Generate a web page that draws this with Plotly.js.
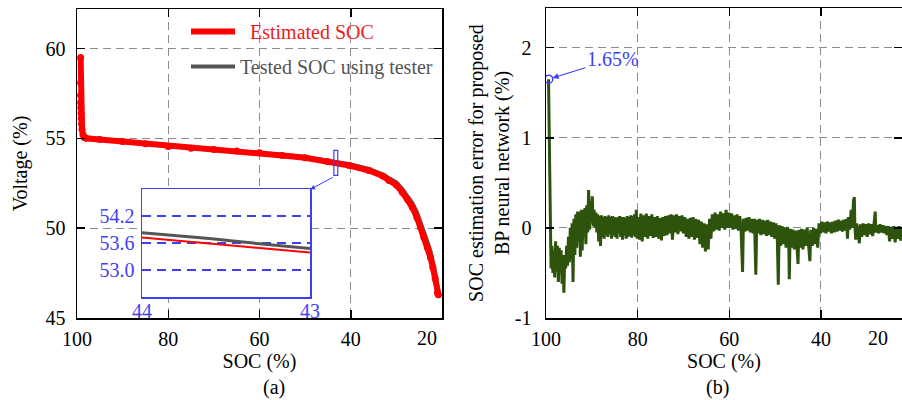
<!DOCTYPE html>
<html>
<head>
<meta charset="utf-8">
<script src="https://cdn.plot.ly/plotly-3.0.1.min.js"></script>
<style>html,body{margin:0;padding:0;background:#fff;}#chart{width:902px;height:400px;}</style>
</head>
<body>
<div id="chart"></div>
<script>
// ---- Panel (a): voltage vs SOC ----
const estSOC = [99.2, 99.2, 99.2, 99.2, 99.15, 99.1, 99.05, 99.0, 98.9, 98.7, 98.4, 98.0, 95, 90, 85, 80, 75, 70, 65, 60, 55, 50, 45, 40.3, 36, 33, 31.6, 30, 28.7, 27.5, 26.5, 25.5, 24.7, 24, 23.2, 22.5, 22, 21.5, 21, 20.8];
const estV   = [59.5, 58.1, 57.4, 57.0, 56.7, 56.4, 56.1, 55.8, 55.5, 55.2, 55.05, 55.0, 54.93, 54.83, 54.7, 54.55, 54.45, 54.38, 54.3, 54.2, 54.05, 53.92, 53.7, 53.49, 53.21, 52.9, 52.65, 52.4, 52.0, 51.6, 51.16, 50.6, 50.04, 49.5, 48.93, 48.35, 47.81, 47.2, 46.41, 46.3];
const testSOC = [99.2, 99.0, 98.5, 98, 95, 90, 85, 80, 75, 70, 65, 60, 55, 50, 45, 40, 36, 33, 31.6, 30, 28.7, 27.5, 26.5, 25.5, 24.7, 24, 23.2, 22.5, 22, 21.5, 21, 20.7];
const testV   = [57.0, 55.9, 55.1, 55.02, 54.95, 54.85, 54.72, 54.58, 54.48, 54.4, 54.32, 54.23, 54.09, 53.96, 53.76, 53.55, 53.3, 53.0, 52.78, 52.55, 52.18, 51.8, 51.4, 50.88, 50.35, 49.8, 49.25, 48.7, 48.15, 47.55, 46.8, 46.4];

// inset (zoom 44 -> 43)
const insetSOC   = [44, 43.8, 43.6, 43.4, 43.2, 43.0];
const insetTestV = [53.83, 53.77, 53.70, 53.62, 53.55, 53.48];
const insetEstV  = [53.72, 53.66, 53.59, 53.52, 53.46, 53.39];
const insetTicks = [54.2, 53.6, 53.0];
const insetXTicks = [44, 43];

const xTicksA = [100, 80, 60, 40];
const yTicksA = [60, 55, 50, 45];

// ---- Panel (b): SOC estimation error ----
const errSOC = [99.45, 99.3, 99.15, 99.05, 98.9, 98.7, 98.5, 98.3, 98.1, 97.9, 97.7, 97.5, 97.3, 97.1, 96.9, 96.7, 96.5, 96.3, 96.1, 95.9, 95.7, 95.5, 95.3, 95.1, 94.9, 94.7, 94.5, 94.3, 94.1, 93.9, 93.7, 93.5, 93.3, 93.1, 92.9, 92.7, 92.5, 92.3, 92.1, 91.9, 91.7, 91.5, 91.3, 91.1, 90.9, 90.7, 90.5, 90.3, 90.1, 89.9, 89.7, 89.5, 89.3, 89.1, 88.9, 88.7, 88.5, 88.3, 88.1, 87.9, 87.7, 87.5, 87.3, 87.1, 86.9, 86.7, 86.5, 86.3, 86.1, 85.9, 85.7, 85.5, 85.3, 85.1, 84.9, 84.7, 84.5, 84.3, 84.1, 83.9, 83.7, 83.5, 83.3, 83.1, 82.9, 82.7, 82.5, 82.3, 82.1, 81.9, 81.7, 81.5, 81.3, 81.1, 80.9, 80.7, 80.5, 80.3, 80.1,
  79.9, 79.6, 79.3, 79.0, 78.7, 78.4, 78.1, 77.8, 77.5, 77.2, 76.9, 76.6, 76.3, 76.0, 75.7, 75.4, 75.1, 74.8, 74.5, 74.2, 73.9, 73.6, 73.3, 73.0, 72.7, 72.4, 72.1, 71.8, 71.5, 71.2, 70.9, 70.6, 70.3, 70.0, 69.7, 69.4, 69.1, 68.8, 68.5, 68.2, 67.9, 67.6, 67.3, 67.0, 66.7, 66.4, 66.1, 65.8, 65.5, 65.2, 64.9, 64.6, 64.3, 64.0, 63.7, 63.4, 63.1, 62.8, 62.5, 62.2, 61.9, 61.6, 61.3, 61.0, 60.7, 60.4,
  60.1, 59.8, 59.5, 59.2, 58.9, 58.6, 58.3, 58.0, 57.7, 57.4, 57.1, 56.9, 56.6, 56.3, 56.0, 55.7, 55.4, 55.1, 54.8, 54.5, 54.2, 54.0, 53.7, 53.4, 53.1, 52.8, 52.5, 52.2, 51.9, 51.6, 51.3, 51.0, 50.7, 50.4, 50.1, 49.8, 49.5, 49.3, 49.1, 48.8, 48.5, 48.2, 47.9, 47.6, 47.3, 47.0, 46.9, 46.7, 46.4, 46.1, 45.8, 45.5, 45.2, 45.0, 44.8, 44.5, 44.2, 43.9, 43.6, 43.3, 43.0, 42.7, 42.4, 42.2, 41.9, 41.6, 41.3, 41.0, 40.7, 40.4,
  40.1, 39.8, 39.5, 39.2, 38.9, 38.6, 38.3, 38.0, 37.7, 37.4, 37.1, 36.8, 36.5, 36.2, 35.9, 35.6, 35.3, 35.0, 34.7, 34.4, 34.2, 34.0, 33.7, 33.4, 33.1, 32.9, 32.7, 32.6, 32.4, 32.2, 31.9, 31.6, 31.4, 31.1, 30.8, 30.5, 30.2, 29.9, 29.6, 29.3, 29.0, 28.7, 28.4, 28.15, 28.0, 27.7, 27.4, 27.1, 26.8, 26.5, 26.2, 25.9, 25.6, 25.3, 25.0, 24.7, 24.4, 24.1, 23.8, 23.5, 23.2, 22.9, 22.6, 22.3];
const errVal = [1.65, 1.0, 0.2, -0.25, -0.45, -0.2, -0.5, -0.25, -0.55, -0.15, -0.48, -0.2, -0.6, -0.22, -0.5, -0.25, -0.62, -0.3, -0.72, -0.3, -0.45, -0.2, -0.42, -0.1, -0.38, 0.0, -0.35, 0.05, -0.6, 0.1, -0.3, 0.15, -0.22, 0.18, -0.15, 0.18, -0.32, 0.2, -0.25, 0.2, -0.1, 0.22, -0.18, 0.25, -0.05, 0.42, -0.02, 0.3, 0.05, 0.35, 0.02, 0.2, 0.0, 0.17, -0.05, 0.15, -0.15, 0.13, -0.2, 0.14, -0.1, 0.12, -0.12, 0.13, -0.08, 0.12, -0.1, 0.14, -0.07, 0.12, -0.12, 0.13, -0.08, 0.12, -0.1, 0.11, -0.12, 0.12, -0.06, 0.13, -0.1, 0.12, -0.13, 0.12, -0.08, 0.11, -0.12, 0.13, -0.1, 0.12, -0.09, 0.14, -0.11, 0.13, -0.08, 0.15, -0.1, 0.2, -0.12,
  0.12, -0.13, 0.16, -0.15, 0.14, -0.1, 0.16, -0.12, 0.13, -0.09, 0.15, -0.11, 0.12, -0.1, 0.13, -0.12, 0.11, -0.14, 0.12, -0.09, 0.13, -0.08, 0.14, -0.06, 0.15, -0.13, 0.14, -0.05, 0.15, -0.07, 0.13, -0.04, 0.14, -0.06, 0.12, -0.1, 0.1, -0.12, 0.11, -0.1, 0.12, -0.13, 0.1, -0.11, 0.09, -0.18, 0.07, -0.22, 0.05, -0.26, 0.04, -0.24, 0.1, -0.12, 0.15, -0.04, 0.17, -0.02, 0.15, -0.03, 0.18, 0.0, 0.16, -0.02, 0.2, 0.0,
  0.17, 0.0, 0.16, -0.02, 0.14, -0.01, 0.15, -0.03, 0.13, -0.05, -0.49, 0.1, -0.04, 0.11, -0.03, 0.12, -0.05, 0.1, -0.06, 0.1, -0.52, 0.09, -0.06, 0.1, -0.08, 0.09, -0.07, 0.08, -0.09, 0.09, -0.08, 0.07, -0.1, 0.06, -0.12, 0.05, -0.15, -0.63, 0.03, -0.2, 0.02, -0.18, 0.0, -0.22, 0.01, -0.2, -0.57, -0.01, -0.22, -0.02, -0.24, -0.03, -0.22, -0.4, -0.02, -0.22, -0.01, -0.24, -0.02, -0.2, 0.0, -0.22, -0.37, -0.02, -0.2, 0.0, -0.18, -0.01, -0.22, 0.05,
  -0.06, 0.07, -0.05, 0.06, -0.06, 0.07, -0.04, 0.06, -0.06, 0.07, -0.05, 0.08, -0.04, 0.09, -0.03, 0.08, -0.04, 0.09, -0.03, 0.1, -0.12, 0.12, -0.02, 0.2, 0.0, 0.3, 0.34, 0.05, -0.13, 0.05, -0.1, -0.17, 0.04, -0.1, 0.05, -0.08, 0.04, -0.1, 0.05, -0.07, 0.04, -0.09, 0.05, 0.18, -0.05, 0.03, -0.06, 0.04, -0.05, 0.03, -0.06, 0.02, -0.08, 0.02, -0.15, 0.01, -0.12, 0.02, -0.16, 0.01, -0.12, 0.02, -0.14, 0.0];
const peakSOC = [99.4];
const peakVal = [1.65];
const xTicksB = [100, 80, 60, 40];
const yTicksB = [-1, 0, 1, 2];

const FONT = '"Liberation Serif", serif';
const BLUE = '#3f3ff5';
const GRID = '#8c8c8c';

const traces = [
  {x: testSOC, y: testV, xaxis: 'x', yaxis: 'y', type: 'scatter', mode: 'lines',
   line: {color: '#555555', width: 4}, name: '<span style="color:#555555">Tested SOC using tester</span>',
   legendrank: 2, legendgroup: 'g2'},
  {x: estSOC, y: estV, xaxis: 'x', yaxis: 'y', type: 'scatter', mode: 'lines',
   line: {color: '#ff0000', width: 6},
   name: '<span style="color:#ee1c1c">\u00a0\u00a0Estimated SOC</span>', legendrank: 1, legendgroup: 'g1'},
  {x: estSOC, y: estV, xaxis: 'x', yaxis: 'y', type: 'scatter', mode: 'markers',
   marker: {color: '#ff0000', size: 7}, showlegend: false},
  {x: insetSOC, y: insetTestV, xaxis: 'x3', yaxis: 'y3', type: 'scatter', mode: 'lines',
   line: {color: '#555555', width: 3}, showlegend: false},
  {x: insetSOC, y: insetEstV, xaxis: 'x3', yaxis: 'y3', type: 'scatter', mode: 'lines',
   line: {color: '#ff0000', width: 2}, showlegend: false},
  {x: errSOC, y: errVal, xaxis: 'x2', yaxis: 'y2', type: 'scatter', mode: 'lines',
   line: {color: '#2d530d', width: 3}, showlegend: false},
  {x: peakSOC, y: peakVal, xaxis: 'x2', yaxis: 'y2', type: 'scatter', mode: 'markers',
   marker: {symbol: 'circle-open', color: BLUE, size: 8, line: {width: 1.5}}, showlegend: false}
];

const tickFont = {family: FONT, size: 20, color: '#000'};
const axBase = {
  showline: true, linecolor: '#000', linewidth: 1.5, mirror: 'ticks',
  ticks: 'inside', ticklen: 8, tickcolor: '#000', tickwidth: 1.5,
  showgrid: true, gridcolor: GRID, gridwidth: 1, griddash: '8px,5px',
  zeroline: false, tickfont: tickFont
};

const px = v => (v - 77) / 825;
const py = v => (318 - v) / 310;

const layout = {
  width: 902, height: 400,
  margin: {l: 77, r: 0, t: 8, b: 82},
  paper_bgcolor: '#fff', plot_bgcolor: '#fff',
  font: {family: FONT, size: 20, color: '#000'},
  showlegend: true,
  legend: {x: px(186), y: py(12), xanchor: 'left', yanchor: 'top', bgcolor: 'rgba(0,0,0,0)',
           font: {family: FONT, size: 20}, tracegroupgap: 6, itemwidth: 44, traceorder: 'grouped'},
  xaxis: Object.assign({}, axBase, {domain: [0, px(442)], range: [100, 20], tickvals: xTicksA,
    ticklabelstandoff: 2, anchor: 'y',
    title: {text: 'SOC (%)', font: {family: FONT, size: 20}, standoff: 4}}),
  yaxis: Object.assign({}, axBase, {domain: [0, py(9)], range: [45, 62.2], tickvals: yTicksA,
    ticklabelstandoff: 6, anchor: 'x',
    title: {text: 'Voltage (%)', font: {family: FONT, size: 20}, standoff: 12}}),
  xaxis2: Object.assign({}, axBase, {domain: [px(546), 1], range: [100, 22.3], tickvals: xTicksB,
    ticklabelstandoff: 2, anchor: 'y2',
    title: {text: 'SOC (%)', font: {family: FONT, size: 20}, standoff: 4}}),
  yaxis2: Object.assign({}, axBase, {domain: [0, 1], range: [-1, 2.44], tickvals: yTicksB,
    ticktext: ['-1', '0', '1', '2'], ticklabelstandoff: 9, anchor: 'x2',
    title: {text: 'SOC estimation error for proposed<br>BP neural network (%)', font: {family: FONT, size: 20}, standoff: 0}}),
  xaxis3: {domain: [px(142), px(310)], range: [44, 43], anchor: 'y3', tickvals: insetXTicks,
    showline: true, linecolor: BLUE, linewidth: 1.5, mirror: true, ticks: '', showgrid: false,
    zeroline: false, tickfont: {family: FONT, size: 20, color: BLUE}, ticklabelstandoff: -5},
  yaxis3: {domain: [py(297), py(189)], range: [52.4, 54.8], anchor: 'x3', tickvals: insetTicks,
    tickformat: '.1f',
    showline: true, linecolor: BLUE, linewidth: 1.5, mirror: true, ticks: '',
    showgrid: true, gridcolor: BLUE, gridwidth: 1.2, griddash: '9px,6px',
    zeroline: false, tickfont: {family: FONT, size: 20, color: BLUE}, ticklabelstandoff: 2},
  shapes: [
    {type: 'rect', xref: 'x', yref: 'y', x0: 43.7, x1: 42.85, y0: 52.94, y1: 54.33,
     line: {color: BLUE, width: 1.2}, fillcolor: 'rgba(0,0,0,0)'}
  ],
  annotations: [
    {xref: 'x', yref: 'y', x: 48.9, y: 52.15, ax: 24, ay: -13, text: '', showarrow: true,
     arrowhead: 2, arrowsize: 1, arrowwidth: 1, arrowcolor: BLUE},
    {xref: 'x2', yref: 'y2', x: 99.4, y: 1.65, ax: 64, ay: -20, text: '1.65%', showarrow: true,
     arrowhead: 2, arrowsize: 1, arrowwidth: 1.2, arrowcolor: BLUE, standoff: 4,
     font: {family: FONT, size: 20, color: BLUE}},
    {xref: 'paper', yref: 'paper', x: px(427), y: py(338), yanchor: 'middle', text: '20', showarrow: false,
     font: {family: FONT, size: 20}},
    {xref: 'paper', yref: 'paper', x: px(890), y: py(338), yanchor: 'middle', text: '20', showarrow: false,
     font: {family: FONT, size: 20}},
    {xref: 'paper', yref: 'paper', x: px(261), y: py(387), yanchor: 'middle', text: '(a)', showarrow: false,
     font: {family: FONT, size: 20}},
    {xref: 'paper', yref: 'paper', x: px(731), y: py(387), yanchor: 'middle', text: '(b)', showarrow: false,
     font: {family: FONT, size: 20}}
  ]
};

Plotly.newPlot('chart', traces, layout, {displayModeBar: false, staticPlot: true});
</script>
</body>
</html>
